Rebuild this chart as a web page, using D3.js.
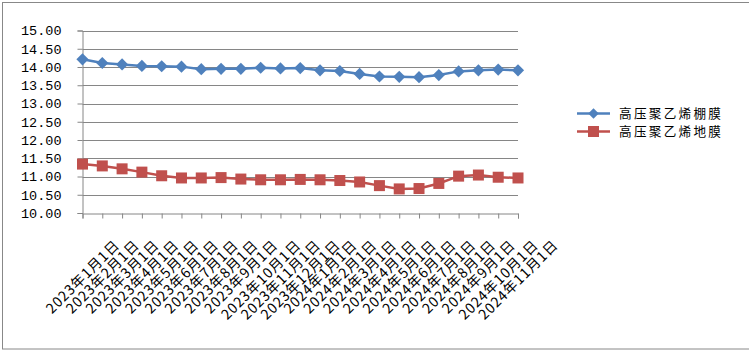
<!DOCTYPE html>
<html>
<head>
<meta charset="utf-8">
<script src="https://cdn.jsdelivr.net/npm/d3@7"></script>
<style>
  body { margin: 0; background: #fff; }
  svg { display: block; }
</style>
</head>
<body>
<div id="chart"></div>
<script>
// months from 2023-01 to 2024-11
const dates = [
  '2023年1月1日', '2023年2月1日', '2023年3月1日', '2023年4月1日', '2023年5月1日',
  '2023年6月1日', '2023年7月1日', '2023年8月1日', '2023年9月1日', '2023年10月1日',
  '2023年11月1日', '2023年12月1日', '2024年1月1日', '2024年2月1日', '2024年3月1日',
  '2024年4月1日', '2024年5月1日', '2024年6月1日', '2024年7月1日', '2024年8月1日',
  '2024年9月1日', '2024年10月1日', '2024年11月1日'
];
const shedFilm = [14.21, 14.11, 14.07, 14.03, 14.02, 14.01, 13.94, 13.95, 13.95, 13.98,
  13.96, 13.97, 13.91, 13.89, 13.81, 13.74, 13.73, 13.72, 13.78, 13.88, 13.91, 13.93, 13.91];
const groundFilm = [11.34, 11.29, 11.21, 11.12, 11.02, 10.96, 10.96, 10.97, 10.93, 10.91,
  10.91, 10.92, 10.91, 10.89, 10.85, 10.75, 10.66, 10.67, 10.81, 11.01, 11.04, 10.98, 10.96];
const seriesNames = ['高压聚乙烯棚膜', '高压聚乙烯地膜'];
const yTicks = [10, 10.5, 11, 11.5, 12, 12.5, 13, 13.5, 14, 14.5, 15];

const W = 749, H = 364;
const margin = { top: 30.5, right: 231, bottom: 151, left: 82.5 };
const cjk = '"Noto Sans CJK SC", sans-serif';

const svg = d3.select('#chart').append('svg')
  .attr('width', W)
  .attr('height', H);

// outer chart frame
svg.append('rect')
  .attr('x', 2.5).attr('y', 2.5)
  .attr('width', 770).attr('height', 346.5)
  .attr('fill', 'none')
  .attr('stroke', '#888');

const x = d3.scalePoint().domain(dates).range([margin.left, W - margin.right]);
const y = d3.scaleLinear().domain([10, 15]).range([H - margin.bottom, margin.top]);

// horizontal grid
svg.append('g').selectAll('line').data(yTicks.slice(1)).join('line')
  .attr('x1', margin.left).attr('x2', W - margin.right)
  .attr('y1', d => Math.round(y(d)) + 0.5).attr('y2', d => Math.round(y(d)) + 0.5)
  .attr('stroke', '#868686');

// y axis
const leftAxis = d3.axisLeft(y).tickValues(yTicks).tickSize(5).tickPadding(16)
  .tickFormat(d3.format('.2f'));
const yG = svg.append('g')
  .attr('transform', `translate(${margin.left},0)`)
  .call(leftAxis);
yG.select('.domain').attr('stroke', '#868686');
yG.selectAll('.tick line').attr('stroke', '#868686');
yG.selectAll('.tick text')
  .attr('font-family', '"Liberation Mono", monospace')
  .attr('font-size', '13.5px')
  .attr('fill', '#000');

// x axis
const bottomAxis = d3.axisBottom(x).tickSize(5).tickFormat('');
const xG = svg.append('g')
  .attr('transform', `translate(0,${Math.round(y(10)) + 0.5})`)
  .call(bottomAxis);
xG.select('.domain').attr('stroke', '#868686');
xG.selectAll('.tick line').attr('stroke', '#868686');

// rotated date labels
const labels = svg.append('g').selectAll('text').data(dates).join('text')
  .attr('font-family', cjk)
  .attr('font-size', '14px')
  .attr('letter-spacing', '0.9px')
  .attr('text-anchor', 'end')
  .attr('fill', '#000')
  .text(d => d);
const L0 = labels.node().getComputedTextLength();
labels.attr('transform', function (d) {
  const extra = (this.getComputedTextLength() - L0) * 0.354;
  return `translate(${x(d) + 38 + extra},246) rotate(-45)`;
});

// lines and markers
const line = d3.line().x((d, i) => x(dates[i])).y(d => y(d));

svg.append('path').datum(shedFilm)
  .attr('d', line).attr('fill', 'none')
  .attr('stroke', '#4F81BD').attr('stroke-width', 2.5);
svg.append('path').datum(groundFilm)
  .attr('d', line).attr('fill', 'none')
  .attr('stroke', '#C0504D').attr('stroke-width', 2.5);

const diamond = d3.symbol().type(d3.symbolDiamond2).size(95);
svg.append('g').selectAll('path').data(shedFilm).join('path')
  .attr('d', diamond)
  .attr('transform', (d, i) => `translate(${x(dates[i])},${y(d)})`)
  .attr('fill', '#4F81BD');

svg.append('g').selectAll('rect').data(groundFilm).join('rect')
  .attr('x', (d, i) => x(dates[i]) - 5.5)
  .attr('y', d => y(d) - 5.5)
  .attr('width', 11).attr('height', 11)
  .attr('fill', '#C0504D');

// legend
const legend = svg.append('g');
const rows = [
  { name: seriesNames[0], color: '#4F81BD', y: 113.5, shape: 'diamond' },
  { name: seriesNames[1], color: '#C0504D', y: 131.5, shape: 'square' }
];
rows.forEach(r => {
  legend.append('line')
    .attr('x1', 577).attr('x2', 610)
    .attr('y1', r.y).attr('y2', r.y)
    .attr('stroke', r.color).attr('stroke-width', 2.5);
  if (r.shape === 'diamond') {
    legend.append('path')
      .attr('d', d3.symbol().type(d3.symbolDiamond2).size(70))
      .attr('transform', `translate(593.5,${r.y})`)
      .attr('fill', r.color);
  } else {
    legend.append('rect')
      .attr('x', 588).attr('y', r.y - 5.5)
      .attr('width', 11).attr('height', 11)
      .attr('fill', r.color);
  }
  legend.append('text')
    .attr('x', 619).attr('y', r.y + 4.5)
    .attr('font-family', cjk)
    .attr('font-size', '12.6px')
    .attr('letter-spacing', '2.3px')
    .attr('fill', '#000')
    .text(r.name);
});
</script>
</body>
</html>
